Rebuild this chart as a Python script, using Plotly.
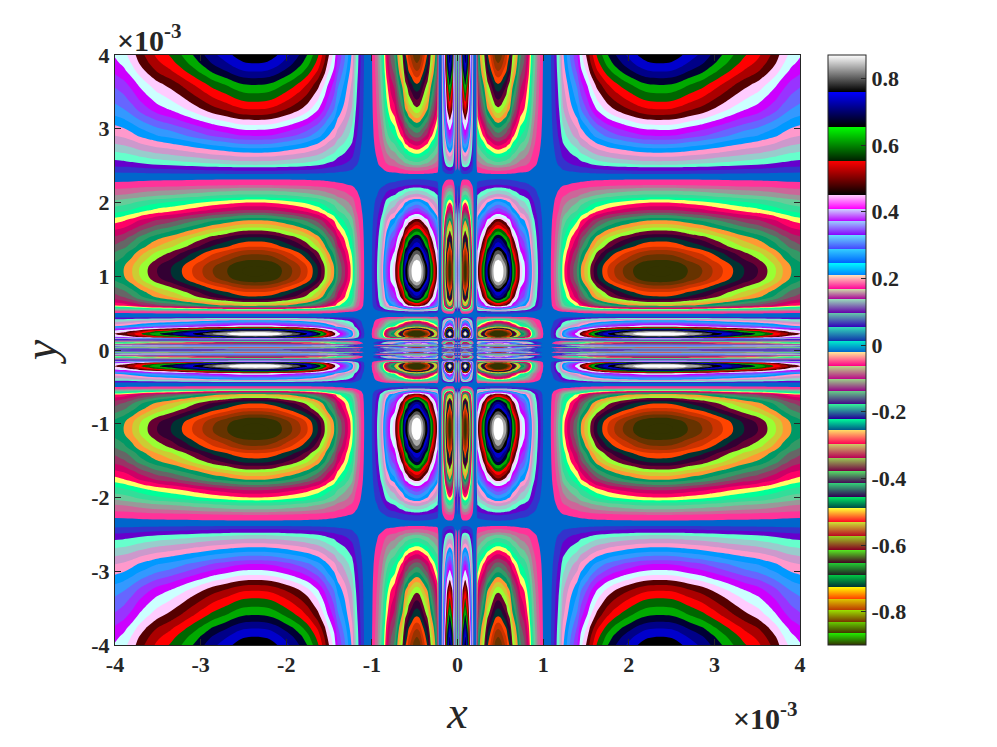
import numpy as np
import plotly.graph_objects as go

# profile along x (at y = 1.05e-3, sign flipped), positive half, units of 1e-3
X_NODES = [0, 0.01, 0.02, 0.03, 0.045, 0.06, 0.09, 0.12, 0.14, 0.17, 0.19, 0.22, 0.233, 0.28, 0.315, 0.35, 0.375,
           0.397, 0.42, 0.445, 0.475, 0.505, 0.537, 0.57, 0.585, 0.61, 0.64, 0.68, 0.735, 0.78, 0.83, 0.88, 0.94, 1.0, 1.09,
           1.13, 1.19, 1.23, 1.32, 1.40, 1.44, 1.48, 1.52, 1.55, 1.59, 1.63, 1.69, 1.75, 1.83, 1.93, 2.05, 2.13, 2.22,
           2.36, 2.5, 2.6, 2.69, 2.86, 2.98, 3.10, 3.22, 3.35, 3.51, 3.62, 3.72, 3.80, 3.90, 4.0]
X_PROFILE = [0.15, -0.2, -0.3, 0.1, 0.5, 0.78, 0.89, 0.78, 0.6, 0.3, 0.02, -0.02, -0.47, -0.594, -0.666, -0.774, -0.81,
             -0.846, -0.882, -0.918, -0.93, -0.918, -0.882, -0.846, -0.81, -0.774, -0.666, -0.594, -0.47, -0.43, -0.34, -0.2, -0.09, -0.018, 0.018,
             0.06, 0.15, 0.25, 0.35, 0.42, 0.486, 0.522, 0.558, 0.594, 0.63, 0.666, 0.702, 0.738, 0.774, 0.81, 0.846, 0.868, 0.884,
             0.89, 0.885, 0.868, 0.846, 0.81, 0.774, 0.738, 0.702, 0.666, 0.63, 0.594, 0.558, 0.522, 0.486, 0.465]

# profile along y (at x = 2.36e-3), positive half
Y_NODES = [0, 0.015, 0.03, 0.055, 0.09, 0.13, 0.145, 0.16, 0.17, 0.18, 0.195, 0.208, 0.22, 0.23, 0.24, 0.255, 0.27, 0.30, 0.32,
           0.35, 0.40, 0.45, 0.49, 0.515, 0.56, 0.605, 0.63, 0.65, 0.67, 0.695, 0.727, 0.785, 0.83, 0.876, 0.92,
           0.96, 1.0, 1.07, 1.13, 1.18, 1.22, 1.30, 1.355, 1.40, 1.47, 1.53, 1.57, 1.62, 1.66, 1.71, 1.76, 1.79, 1.83, 1.86,
           1.90, 1.95, 2.0, 2.04, 2.07, 2.11, 2.16, 2.2, 2.236, 2.313, 2.387, 2.43, 2.477, 2.51, 2.56, 2.62,
           2.676, 2.735, 2.79, 2.85, 2.902, 2.983, 3.051, 3.119, 3.186, 3.263, 3.366, 3.48, 3.594, 3.685, 3.775,
           3.887, 4.0]
Y_PROFILE = [-0.3, 0.2, -0.6, 0.4, -0.5, 0, 0.1, 0.45, 0.7, 0.81, 0.882, 0.918, 0.93, 0.918, 0.882, 0.85, 0.77, 0.6, 0.45,
             0.38, 0.25, 0.018, -0.018, -0.05, -0.3, -0.522, -0.558, -0.594, -0.63, -0.666, -0.702, -0.738, -0.774, -0.81, -0.846,
             -0.872, -0.884, -0.89, -0.885, -0.868, -0.846, -0.81, -0.774, -0.738, -0.702, -0.666, -0.63, -0.594, -0.558, -0.522, -0.486, -0.45, -0.414, -0.378,
             -0.342, -0.306, -0.27, -0.234, -0.198, -0.162, -0.126, -0.09, -0.054, -0.018, 0.018, 0.054, 0.09, 0.126, 0.162, 0.198,
             0.234, 0.27, 0.306, 0.342, 0.378, 0.414, 0.45, 0.486, 0.522, 0.558, 0.594, 0.63, 0.666, 0.702, 0.738,
             0.774, 0.80]

# the filled bands of the map, lowest first (plotly paints each band with the next block, so olive comes twice)
BAND_COLORS = ["#333300", "#333300", "#663300", "#993300", "#cc3300", "#ff4400", "#003333", "#330033", "#660033", "#99ff33",
               "#cccc33", "#ff9933", "#009966", "#339966", "#666666", "#993366", "#cc0066", "#ff0066", "#ffff66",
               "#00ff99", "#33dd99", "#66cc99", "#999999", "#cc6699", "#ff3399", "#0066cc", "#3333cc", "#6600cc",
               "#66ffcc", "#99cccc", "#cc99cc", "#ff99cc", "#0099ff", "#3399ff", "#6666ff", "#9933ff", "#cc00ff",
               "#ccffff", "#ffccff", "#550000", "#aa0000", "#ff0000", "#006600", "#00aa00", "#000033", "#000088",
               "#0000cc", "#000000", "#555555", "#aaaaaa", "#ffffff"]
LEVEL_START = -0.882
LEVEL_END = 0.921
LEVEL_STEP = 0.036

Z_MIN = -0.90
Z_MAX = 0.87

# colour bar segments, from the top of the bar downwards: value at the top edge, colour there, colour at the bottom
BAR_EDGES = [0.871, 0.761, 0.656, 0.554, 0.450, 0.410, 0.372, 0.330, 0.288, 0.248, 0.212, 0.168, 0.138, 0.097,
             0.055, 0.013, -0.020, -0.062, -0.103, -0.138, -0.178, -0.221, -0.255, -0.297, -0.338, -0.378, -0.415,
             -0.455, -0.490, -0.532, -0.574, -0.614, -0.654, -0.689, -0.726, -0.761, -0.796, -0.831, -0.864, -0.90]
BAR_TOP = ["#ffffff", "#0000ff", "#00ff00", "#ff0000", "#ffccff", "#ccddff", "#99ccff", "#66ddff", "#33ccff",
           "#00ffff", "#ffeebb", "#ccddaa", "#99ddbb", "#66ccaa", "#33ddbb", "#00eecc", "#ffee99", "#bbdd88",
           "#99cc88", "#66cc88", "#33ee99", "#00ff99", "#ffdd66", "#cccc66", "#99cc55", "#55dd66", "#33cc77",
           "#00ee66", "#ffff33", "#ccdd33", "#99cc22", "#55ee22", "#22cc33", "#00cc44", "#ffff00", "#ddcc00",
           "#99dd00", "#66cc00", "#22ee00"]
BAR_BOTTOM = ["#000000", "#000000", "#002200", "#000000", "#ff00ff", "#bb00ff", "#8800ff", "#4444ff", "#0066ff",
              "#0088ff", "#ff0099", "#aa0099", "#6600aa", "#3300bb", "#1133aa", "#0066cc", "#ff0088", "#bb0088",
              "#990088", "#440088", "#220099", "#005588", "#ff0055", "#bb0055", "#770044", "#440055", "#330055",
              "#004444", "#ff0022", "#bb0022", "#880022", "#440022", "#222222", "#003333", "#ff4400", "#bb3300",
              "#773300", "#443300", "#333300"]

AXIS_TICKS = [-4, -3, -2, -1, 0, 1, 2, 3, 4]
AXIS_LABELS = ["-4", "-3", "-2", "-1", "0", "1", "2", "3", "4"]
BAR_TICKS = [-0.8, -0.6, -0.4, -0.2, 0, 0.2, 0.4, 0.6, 0.8]
BAR_LABELS = ["-0.8", "-0.6", "-0.4", "-0.2", "0", "0.2", "0.4", "0.6", "0.8"]

# mirror the half profiles, the picture is symmetric in both axes
x_full = np.r_[-np.array(X_NODES[:0:-1]), X_NODES]
y_full = np.r_[-np.array(Y_NODES[:0:-1]), Y_NODES]
fx_full = np.r_[X_PROFILE[:0:-1], X_PROFILE]
gy_full = np.r_[Y_PROFILE[:0:-1], Y_PROFILE]
z = np.outer(gy_full, fx_full) / 0.89

# one flat block per band for the map
n_bands = len(BAND_COLORS)
band_scale = []
for k, c in enumerate(BAND_COLORS):
    band_scale.append([k / n_bands, c])
    band_scale.append([(k + 1) / n_bands, c])

# hard-edged smooth segments for the colour bar, lowest value first
bar_scale = []
span = BAR_EDGES[0] - BAR_EDGES[-1]
for i in range(len(BAR_TOP) - 1, -1, -1):
    bar_scale.append([(BAR_EDGES[i + 1] - BAR_EDGES[-1]) / span, BAR_BOTTOM[i]])
    bar_scale.append([(BAR_EDGES[i] - BAR_EDGES[-1]) / span, BAR_TOP[i]])
bar_scale[0][0] = 0.0
bar_scale[-1][0] = 1.0

DARK = "#262626"
tick_font = dict(family="Liberation Serif", size=22, color=DARK, weight="bold")
title_font = dict(family="Liberation Serif", size=46, color=DARK)

fig = go.Figure()
fig.add_trace(go.Contour(
    x=x_full, y=y_full, z=z,
    colorscale=band_scale,
    autocontour=False,
    contours=dict(start=LEVEL_START, end=LEVEL_END, size=LEVEL_STEP, coloring="fill", showlines=False),
    line=dict(width=0, smoothing=1),
    showscale=False, hoverinfo="skip",
))
# empty marker trace only carries the smooth colour bar
fig.add_trace(go.Scatter(
    x=[None], y=[None], mode="markers", showlegend=False,
    marker=dict(
        color=[Z_MIN, Z_MAX], cmin=Z_MIN, cmax=Z_MAX, colorscale=bar_scale, showscale=True,
        colorbar=dict(
            x=713 / 685, xanchor="left", xpad=0, y=0.5, yanchor="middle", len=1, ypad=0,
            thickness=38, outlinewidth=1, outlinecolor=DARK,
            ticks="inside", ticklen=5, tickcolor=DARK, tickwidth=1,
            tickvals=BAR_TICKS, ticktext=BAR_LABELS, tickfont=tick_font,
        ),
    ),
))

axis_style = dict(
    range=[-4, 4], tickvals=AXIS_TICKS, ticktext=AXIS_LABELS, tickfont=tick_font,
    ticks="inside", ticklen=6, tickcolor=DARK, tickwidth=1,
    showline=True, linecolor=DARK, linewidth=1, mirror="allticks",
    showgrid=False, zeroline=False,
)
fig.update_xaxes(title=dict(text="<i>x</i>", font=title_font, standoff=19), **axis_style)
fig.update_yaxes(title=dict(text="<i>y</i>", font=title_font, standoff=20), **axis_style)

for txt, px, py in [("×10<sup>-3</sup>", 0.0, 1.0), ("×10<sup>-3</sup>", 1.0, 0.0)]:
    fig.add_annotation(
        text=txt, xref="paper", yref="paper", x=px, y=py, showarrow=False,
        xanchor="left" if px == 0 else "right", yanchor="bottom" if py == 1 else "top",
        xshift=0, yshift=-4 if py == 1 else -50,
        font=dict(family="Liberation Serif", size=30, color=DARK, weight="bold"),
    )

fig.update_layout(
    width=997, height=747, autosize=False,
    margin=dict(l=115, r=197, t=55, b=102, pad=0),
    paper_bgcolor="white", plot_bgcolor="white", showlegend=False,
)

fig.write_html("out.html", config=dict(displayModeBar=False), post_script="document.body.style.margin='0';")
